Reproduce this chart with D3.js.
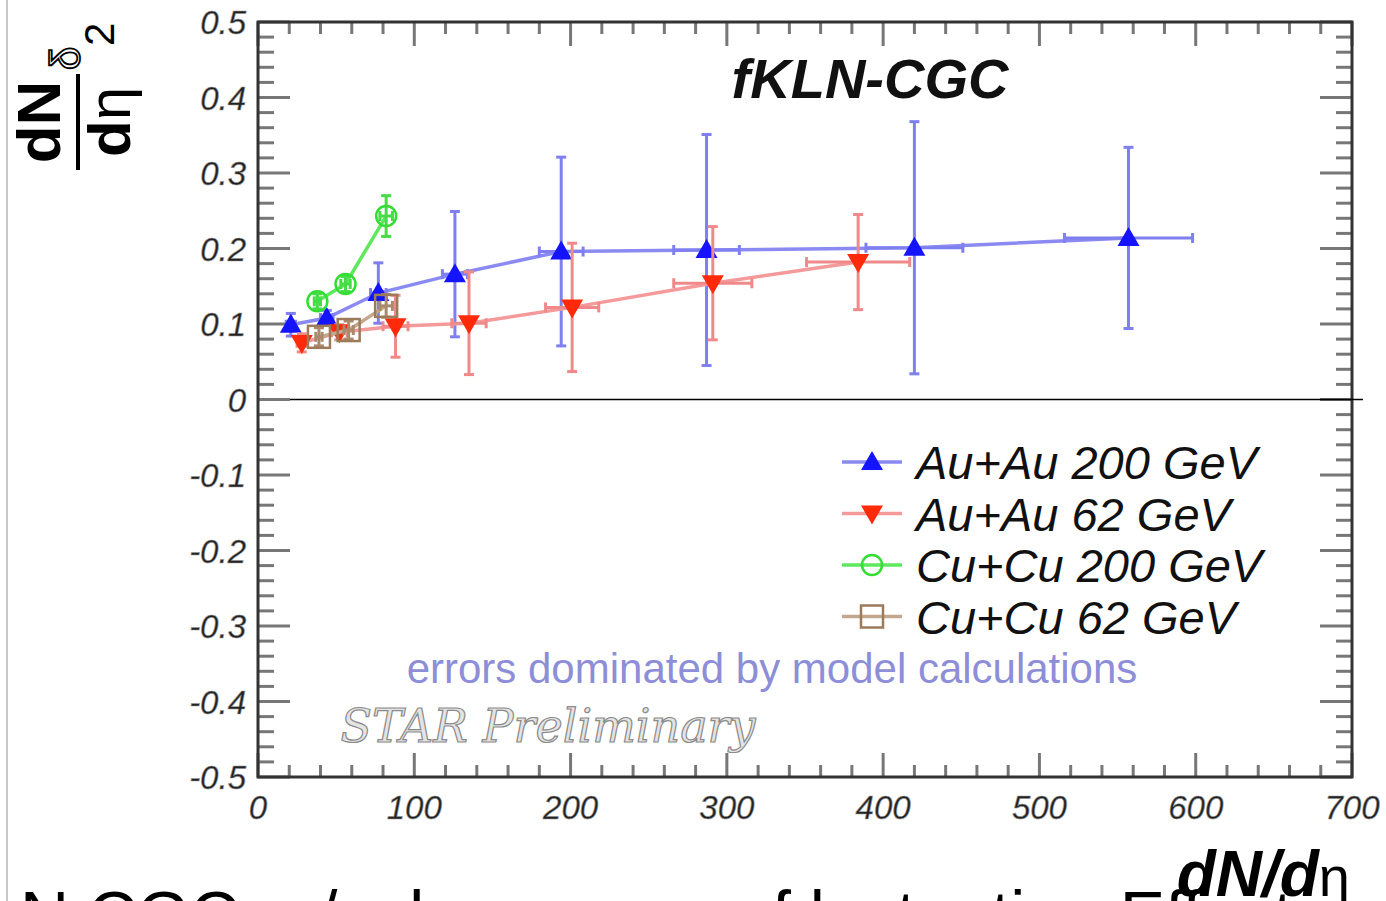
<!DOCTYPE html>
<html>
<head>
<meta charset="utf-8">
<script src="https://cdn.jsdelivr.net/npm/d3@7"></script>
<style>
  body { margin: 0; background: #fff; overflow: hidden; }
  svg { display: block; }
</style>
</head>
<body>
<div id="chart"></div>
<script>
// values
const xAu200 = [21, 44, 77, 126, 194, 287, 420, 557];
const yAu200 = [0.099, 0.108, 0.141, 0.166, 0.196, 0.198, 0.201, 0.214];
const exAu200 = [3, 4, 5, 8, 14, 21, 31, 41];
const eyAu200 = [0.015, 0.01, 0.04, 0.083, 0.125, 0.153, 0.167, 0.12];

const xAu62 = [28, 52, 88, 135, 201, 291, 384];
const yAu62 = [0.075, 0.089, 0.097, 0.101, 0.122, 0.154, 0.182];
const exAu62 = [3, 5, 8, 11, 17, 25, 33];
const eyAu62 = [0.012, 0.01, 0.041, 0.068, 0.085, 0.075, 0.063];

const xCu200 = [38, 56, 82];
const yCu200 = [0.130, 0.153, 0.243];
const exCu200 = [2, 3, 4];
const eyCu200 = [0.01, 0.01, 0.027];

const xCu62 = [39, 58, 82];
const yCu62 = [0.083, 0.092, 0.124];
const exCu62 = [2, 3, 4];
const eyCu62 = [0.012, 0.012, 0.015];

const seriesNames = ["Au+Au 200 GeV", "Au+Au 62 GeV", "Cu+Cu 200 GeV", "Cu+Cu 62 GeV"];
const xTickLabels = [0, 100, 200, 300, 400, 500, 600, 700];
const yTickLabels = ["-0.5", "-0.4", "-0.3", "-0.2", "-0.1", "0", "0.1", "0.2", "0.3", "0.4", "0.5"];

const width = 1386, height = 901;
const frame = { left: 258, right: 1352, top: 22, bottom: 777 };

const svg = d3.select("#chart").append("svg")
    .attr("width", width)
    .attr("height", height);

// slide border on the left
svg.append("line")
    .attr("x1", 7).attr("x2", 7).attr("y1", 0).attr("y2", height)
    .attr("stroke", "#c8c8c8").attr("stroke-width", 2);

const x = d3.scaleLinear().domain([0, 700]).range([frame.left, frame.right]);
const y = d3.scaleLinear().domain([-0.5, 0.5]).range([frame.bottom, frame.top]);

const zip = (xs, ys, exs, eys) => xs.map((v, i) => ({ x: v, y: ys[i], ex: exs[i], ey: eys[i] }));

const series = [
    { name: seriesNames[0], data: zip(xAu200, yAu200, exAu200, eyAu200), marker: "up",
      line: "#8a8af2", err: "#7f7ff0", fill: "#1414ff", stroke: "#1414ff" },
    { name: seriesNames[1], data: zip(xAu62, yAu62, exAu62, eyAu62), marker: "down",
      line: "#f59a9a", err: "#f08a8a", fill: "#ff2a0a", stroke: "#ff2a0a" },
    { name: seriesNames[2], data: zip(xCu200, yCu200, exCu200, eyCu200), marker: "circle",
      line: "#5ee85e", err: "#44dd44", fill: "none", stroke: "#33dd33" },
    { name: seriesNames[3], data: zip(xCu62, yCu62, exCu62, eyCu62), marker: "square",
      line: "#c4a88e", err: "#a98a6c", fill: "none", stroke: "#9c7a5a" }
];

// ---- ticks (all four sides, ROOT style) ----
const ticks = svg.append("g").attr("class", "ticks")
    .attr("stroke", "#777").attr("stroke-width", 3);

d3.range(0, 701, 20).forEach(v => {
    const major = v % 100 === 0;
    const len = major ? 24 : 12;
    ticks.append("line").attr("x1", x(v)).attr("x2", x(v))
        .attr("y1", frame.bottom).attr("y2", frame.bottom - len);
    ticks.append("line").attr("x1", x(v)).attr("x2", x(v))
        .attr("y1", frame.top).attr("y2", frame.top + len);
});

d3.range(-50, 51, 2).forEach(k => {
    const v = k / 100;
    const major = k % 10 === 0;
    const len = major ? 32 : 16;
    ticks.append("line").attr("x1", frame.left).attr("x2", frame.left + len)
        .attr("y1", y(v)).attr("y2", y(v));
    ticks.append("line").attr("x1", frame.right).attr("x2", frame.right - len)
        .attr("y1", y(v)).attr("y2", y(v));
});

// frame
svg.append("rect")
    .attr("x", frame.left).attr("y", frame.top)
    .attr("width", frame.right - frame.left).attr("height", frame.bottom - frame.top)
    .attr("fill", "none").attr("stroke", "#333").attr("stroke-width", 3);

// zero line
svg.append("line")
    .attr("x1", x(20.5)).attr("x2", x(707))
    .attr("y1", y(0)).attr("y2", y(0))
    .attr("stroke", "#000").attr("stroke-width", 1.5);

// tick labels
svg.append("g").selectAll("text")
    .data(yTickLabels).enter().append("text")
    .attr("x", 246).attr("y", d => y(+d) + 12)
    .attr("text-anchor", "end")
    .attr("font-family", "Liberation Sans, Arial, sans-serif")
    .attr("font-style", "italic")
    .attr("font-size", 33)
    .attr("fill", "#222")
    .attr("stroke", "#999").attr("stroke-width", 0.6)
    .text(d => d);

svg.append("g").selectAll("text")
    .data(xTickLabels).enter().append("text")
    .attr("x", d => x(d)).attr("y", 819)
    .attr("text-anchor", "middle")
    .attr("font-family", "Liberation Sans, Arial, sans-serif")
    .attr("font-style", "italic")
    .attr("font-size", 33)
    .attr("fill", "#222")
    .attr("stroke", "#999").attr("stroke-width", 0.6)
    .text(d => d);

// ---- markers ----
function drawMarker(g, kind, s) {
    if (kind === "up") {
        g.append("path").attr("d", "M0,-11L11,8L-11,8Z").attr("fill", s.fill);
    } else if (kind === "down") {
        g.append("path").attr("d", "M0,11L11,-8L-11,-8Z").attr("fill", s.fill);
    } else if (kind === "circle") {
        g.append("circle").attr("r", 10).attr("fill", "none")
            .attr("stroke", s.stroke).attr("stroke-width", 2.5);
    } else {
        g.append("rect").attr("x", -11).attr("y", -11).attr("width", 22).attr("height", 22)
            .attr("fill", "none").attr("stroke", s.stroke).attr("stroke-width", 2.5);
    }
}

const line = d3.line().x(d => x(d.x)).y(d => y(d.y));

series.forEach(s => {
    const g = svg.append("g").attr("class", "series");

    g.append("path").datum(s.data)
        .attr("d", line)
        .attr("fill", "none")
        .attr("stroke", s.line)
        .attr("stroke-width", 3.5);

    // error bars
    const eb = g.append("g").attr("stroke", s.err).attr("stroke-width", 3);
    s.data.forEach(d => {
        eb.append("line").attr("x1", x(d.x)).attr("x2", x(d.x))
            .attr("y1", y(d.y - d.ey)).attr("y2", y(d.y + d.ey));
        eb.append("line").attr("x1", x(d.x) - 5).attr("x2", x(d.x) + 5)
            .attr("y1", y(d.y - d.ey)).attr("y2", y(d.y - d.ey));
        eb.append("line").attr("x1", x(d.x) - 5).attr("x2", x(d.x) + 5)
            .attr("y1", y(d.y + d.ey)).attr("y2", y(d.y + d.ey));
        eb.append("line").attr("x1", x(d.x - d.ex)).attr("x2", x(d.x + d.ex))
            .attr("y1", y(d.y)).attr("y2", y(d.y));
        eb.append("line").attr("x1", x(d.x - d.ex)).attr("x2", x(d.x - d.ex))
            .attr("y1", y(d.y) - 5).attr("y2", y(d.y) + 5);
        eb.append("line").attr("x1", x(d.x + d.ex)).attr("x2", x(d.x + d.ex))
            .attr("y1", y(d.y) - 5).attr("y2", y(d.y) + 5);
    });

    s.data.forEach(d => {
        const m = g.append("g").attr("transform", "translate(" + x(d.x) + "," + y(d.y) + ")");
        drawMarker(m, s.marker, s);
    });
});

// ---- legend ----
const legend = svg.append("g").attr("class", "legend");
series.forEach((s, i) => {
    const ly = 462 + i * 51.5;
    legend.append("line")
        .attr("x1", 842).attr("x2", 902).attr("y1", ly).attr("y2", ly)
        .attr("stroke", s.line).attr("stroke-width", 3.5);
    const m = legend.append("g").attr("transform", "translate(872," + ly + ")");
    drawMarker(m, s.marker, s);
    legend.append("text")
        .attr("x", 916).attr("y", ly + 17)
        .attr("font-family", "Liberation Sans, Arial, sans-serif")
        .attr("font-style", "italic")
        .attr("font-size", 47)
        .attr("fill", "#111")
        .text(s.name);
});

// ---- titles and annotations ----
svg.append("text")
    .attr("x", 870).attr("y", 98)
    .attr("text-anchor", "middle")
    .attr("font-family", "Liberation Sans, Arial, sans-serif")
    .attr("font-style", "italic").attr("font-weight", "bold")
    .attr("font-size", 56)
    .attr("fill", "#111")
    .text("fKLN-CGC");

svg.append("text")
    .attr("x", 772).attr("y", 683)
    .attr("text-anchor", "middle")
    .attr("font-family", "Liberation Sans, Arial, sans-serif")
    .attr("font-size", 42)
    .attr("fill", "#8e8ed8")
    .text("errors dominated by model calculations");

svg.append("text")
    .attr("x", 548).attr("y", 742)
    .attr("text-anchor", "middle")
    .attr("font-family", "DejaVu Serif, serif")
    .attr("font-style", "italic")
    .attr("font-size", 46)
    .attr("fill", "#e4e4e4")
    .attr("stroke", "#8a8a8a").attr("stroke-width", 1.2)
    .text("STAR Preliminary");

// y axis title: (dN/dη) δ₂, rotated
const yt = svg.append("g").attr("transform", "translate(80,122) rotate(-90)");
yt.append("text").attr("x", 0).attr("y", -20)
    .attr("text-anchor", "middle")
    .attr("font-family", "Liberation Sans, Arial, sans-serif")
    .attr("font-weight", "bold").attr("font-size", 62)
    .attr("fill", "#000")
    .text("dN");
yt.append("line").attr("x1", -48).attr("x2", 48).attr("y1", -2).attr("y2", -2)
    .attr("stroke", "#000").attr("stroke-width", 4);
yt.append("text").attr("x", 0).attr("y", 50)
    .attr("text-anchor", "middle")
    .attr("font-family", "Liberation Sans, Arial, sans-serif")
    .attr("font-size", 60)
    .attr("fill", "#000")
    .html("<tspan font-weight='bold'>d</tspan>η");
yt.append("text").attr("x", 52).attr("y", 0)
    .attr("font-family", "Liberation Sans, Arial, sans-serif")
    .attr("font-size", 42)
    .attr("fill", "#fff").attr("stroke", "#000").attr("stroke-width", 1.8)
    .text("δ");
yt.append("text").attr("x", 76).attr("y", 34)
    .attr("font-family", "Liberation Sans, Arial, sans-serif")
    .attr("font-size", 42)
    .attr("fill", "#000")
    .text("2");

// x axis title
const xt = svg.append("text")
    .attr("x", 1350).attr("y", 896)
    .attr("text-anchor", "end")
    .attr("font-family", "Liberation Sans, Arial, sans-serif")
    .attr("font-size", 64)
    .attr("fill", "#000");
xt.append("tspan").attr("font-weight", "bold").attr("font-style", "italic").text("dN/d");
xt.append("tspan").attr("font-size", 56).text("η");

// cut-off slide text at the bottom (only the tops of the letters show)
svg.append("text")
    .attr("x", 20).attr("y", 939)
    .attr("font-family", "Liberation Sans, Arial, sans-serif")
    .attr("font-size", 68)
    .attr("fill", "#000")
    .text("N CGC v₂/ε  d  ocuses on  f  luctuation  Effects");
</script>
</body>
</html>
